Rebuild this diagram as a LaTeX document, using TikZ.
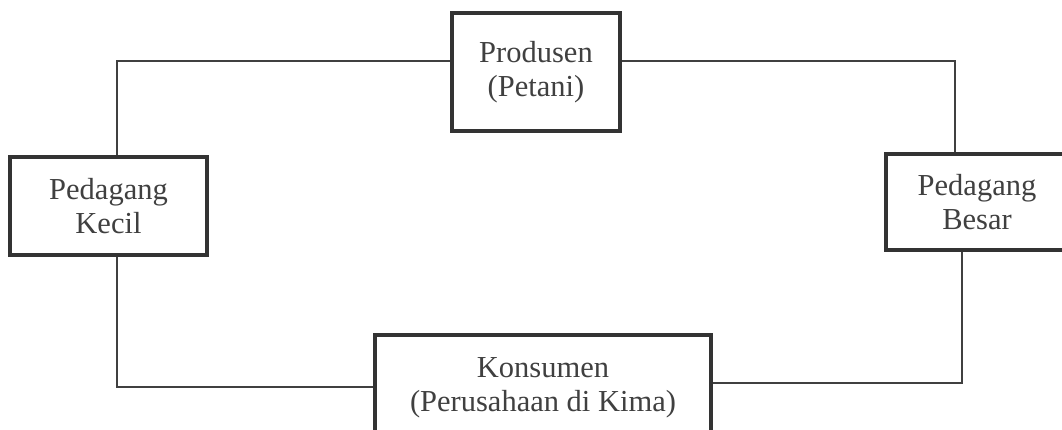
\documentclass[tikz,border=0pt]{standalone}
\usepackage{fontspec}
\setmainfont{Liberation Serif}
\begin{document}
\begin{tikzpicture}[x=1pt,y=-1pt,
  box/.style={draw=black!80, line width=4pt, rectangle, inner sep=0pt,
    align=center, text=black!75, font=\fontsize{30.5}{34.5}\selectfont},
  link/.style={draw=black!75, line width=1.6pt}]
\useasboundingbox (0,0) rectangle (1062,429);
\clip (0,0) rectangle (1062,429);
\fill[white] (0,0) rectangle (1062,429);
\node[box, minimum width=168pt, minimum height=118pt] (prod) at (536,72) {Produsen\\(Petani)};
\node[box, minimum width=197pt, minimum height=98pt] (kecil) at (108.5,206) {Pedagang\\Kecil};
\node[box, minimum width=182pt, minimum height=96pt] (besar) at (977,202) {Pedagang\\Besar};
\node[box, minimum width=336pt, minimum height=106pt] (kons) at (543,388) {Konsumen\\(Perusahaan di Kima)};
\coordinate (c1) at (117,61);
\coordinate (c2) at (955,61);
\coordinate (c3) at (117,387);
\coordinate (c4) at (962,383);
\draw[link] (prod.west |- c1) -- (c1) -- (kecil.north -| c1);
\draw[link] (prod.east |- c2) -- (c2) -- (besar.north -| c2);
\draw[link] (kecil.south -| c3) -- (c3) -- (kons.west |- c3);
\draw[link] (besar.south -| c4) -- (c4) -- (kons.east |- c4);
\end{tikzpicture}
\end{document}
